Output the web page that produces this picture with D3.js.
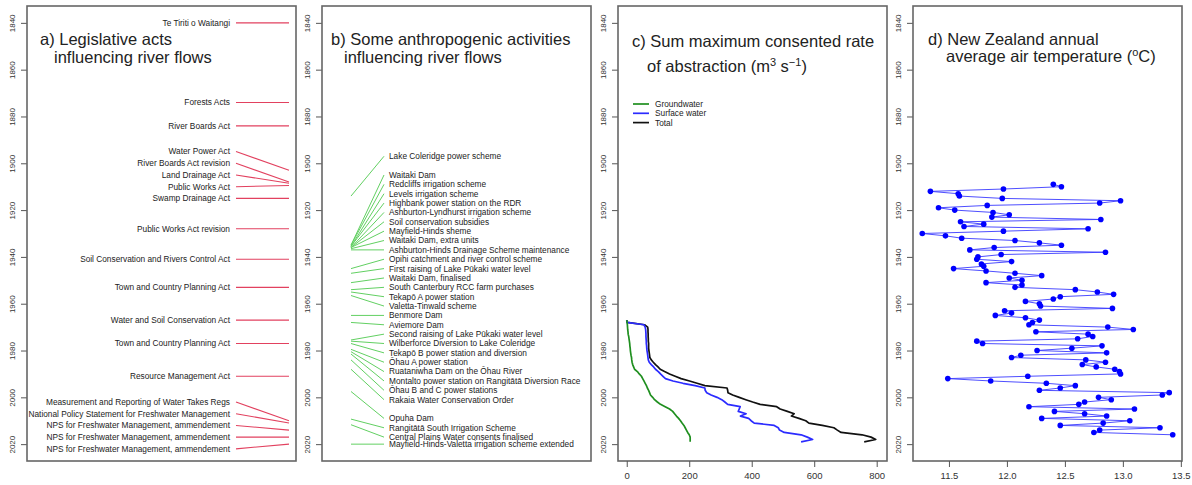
<!DOCTYPE html>
<html>
<head>
<meta charset="utf-8">
<script src="https://cdn.jsdelivr.net/npm/d3@7/dist/d3.min.js"></script>
<style>
  body { margin: 0; background: #fff; }
  svg text { font-family: "Liberation Sans", Arial, sans-serif; }
</style>
</head>
<body>
<div id="chart"></div>
<script>
// ---- data ----
// a) legislative acts: name, year of the act, year where the label sits
const actNames = [
  "Te Tiriti o Waitangi", "Forests Acts", "River Boards Act", "Water Power Act",
  "River Boards Act revision", "Land Drainage Act", "Public Works Act", "Swamp Drainage Act",
  "Public Works Act revision", "Soil Conservation and Rivers Control Act",
  "Town and Country Planning Act", "Water and Soil Conservation Act",
  "Town and Country Planning Act", "Resource Management Act",
  "Measurement and Reporting of Water Takes Regs",
  "National Policy Statement for Freshwater Management",
  "NPS for Freshwater Management, ammendement",
  "NPS for Freshwater Management, ammendement",
  "NPS for Freshwater Management, ammendement"
];
const actYears = [1840, 1874, 1884, 1903, 1908, 1908.5, 1909.5, 1915, 1928, 1941, 1953, 1967, 1977, 1991, 2010, 2011, 2014, 2017, 2020];
const actLabelYears = [1840, 1874, 1884, 1895, 1900, 1905, 1910, 1915, 1928, 1941, 1953, 1967, 1977, 1991, 2002, 2007, 2012, 2017, 2022];

// b) anthropogenic activities
const activityNames = [
  "Lake Coleridge power scheme", "Waitaki Dam", "Redcliffs irrigation scheme",
  "Levels irrigation scheme", "Highbank power station on the RDR",
  "Ashburton-Lyndhurst irrigation scheme", "Soil conservation subsidies",
  "Mayfield-Hinds sheme", "Waitaki Dam, extra units",
  "Ashburton-Hinds Drainage Scheme maintenance", "Opihi catchment and river control scheme",
  "First raising of Lake Pūkaki water level", "Waitaki Dam, finalised",
  "South Canterbury RCC farm purchases", "Tekapō A power station", "Valetta-Tinwald scheme",
  "Benmore Dam", "Aviemore Dam", "Second raising of Lake Pūkaki water level",
  "Wilberforce Diversion to Lake Coleridge", "Tekapō B power station and diversion",
  "Ōhau A power station", "Ruataniwha Dam on the Ōhau River",
  "Montalto power station on Rangitātā Diversion Race", "Ōhau B and C power stations",
  "Rakaia Water Conservation Order", "Opuha Dam", "Rangitātā South Irrigation Scheme",
  "Central Plains Water consents finalised", "Mayfield-Hinds-Valetta irrigation scheme extended"
];
const activityYears = [1914, 1935, 1935, 1935.5, 1935.5, 1936, 1936, 1936, 1936.5, 1937,
  1945, 1947, 1951, 1954, 1955, 1956.5, 1965, 1968, 1975.5, 1976, 1977, 1979.5, 1980.5,
  1981.5, 1984, 1988, 1997.5, 2009.3, 2011.7, 2020];
const activityLabelYears = [1897, 1905, 1909, 1913, 1917, 1921, 1925, 1929, 1933, 1937,
  1941, 1945, 1949, 1953, 1957, 1961, 1965, 1969, 1973, 1977, 1981, 1985, 1989, 1993,
  1997, 2001, 2009, 2013, 2017, 2020];

// c) sum of maximum consented abstraction, 1967-2019 (m3/s)
const abstractionStart = 1967;
const groundwater = [0, 1, 2, 2.5, 3, 4, 4.5, 6.3, 7.3, 8.4,
  9.5, 10, 11, 11.6, 12.6, 13.7, 15.3, 16, 17, 19,
  22, 25, 34, 40, 47, 51, 55, 59, 63, 66,
  70, 73, 76, 83, 89, 98, 108, 123, 137, 147,
  153, 159, 166, 172, 177, 183, 187, 191, 195, 200,
  203, 203, 203];
const surfaceWater = [0, 1, 55, 59, 60.5, 61, 61.5, 61.5, 62, 62.6,
  62.6, 63.6, 64, 64.7, 66, 67, 68, 69, 72, 78.5,
  86, 92, 101, 108, 116, 124, 148, 180, 219, 250,
  251, 256, 270, 289, 304, 314, 323, 363, 360, 357,
  382, 364, 390, 398, 408, 472, 485, 489, 504, 558,
  578, 595, 558];
const totalAbstraction = [0, 2, 57, 67, 68, 68, 68.5, 68.5, 69, 69,
  70, 70, 70, 71, 72, 73, 74, 78.5, 85, 92,
  100, 107, 121, 137, 155, 174, 201, 225, 250, 321,
  323, 324, 339, 360, 381, 403, 427, 480, 491, 514,
  536, 527, 551, 573, 583, 626, 663, 674, 686, 753,
  782, 797, 760];
const seriesNames = ["Groundwater", "Surface water", "Total"];
const seriesColors = ["#1f8f1f", "#2b2bff", "#111111"];

// d) NZ annual average air temperature, 1909-2016 (degC)
const tempStart = 1909;
const temperature = [12.40, 12.47, 11.97, 11.34, 11.58, 11.59, 11.96, 12.98, 12.80, 11.83,
  11.41, 11.55, 11.88, 12.02, 11.87, 12.81, 11.60, 11.80, 11.63, 12.70,
  11.97, 11.27, 11.47, 11.61, 12.07, 12.28, 12.47, 11.89, 11.68, 12.85,
  11.95, 11.75, 11.74, 12.04, 11.78, 11.80, 11.54, 11.82, 12.07, 12.30,
  12.02, 12.13, 11.82, 12.13, 12.07, 12.59, 12.78, 12.92, 12.46, 12.40,
  12.16, 12.28, 12.29, 12.91, 11.98, 12.04, 11.90, 12.16, 12.28, 12.22,
  12.19, 12.87, 13.09, 12.25, 12.70, 12.74, 12.61, 11.74, 11.79, 12.82,
  12.56, 12.26, 12.86, 12.12, 12.04, 12.68, 12.85, 12.65, 12.77, 12.93,
  12.97, 12.98, 12.18, 11.49, 11.86, 12.34, 12.59, 12.46, 12.28, 13.40,
  13.34, 12.79, 12.90, 12.67, 12.62, 12.19, 13.10, 12.41, 12.67, 12.86,
  12.30, 13.06, 12.83, 12.46, 13.32, 12.80, 12.75, 13.43];

const yearTicks = [1840, 1860, 1880, 1900, 1920, 1940, 1960, 1980, 2000, 2020];
const abstractionTicks = [0, 200, 400, 600, 800];
const tempTicks = [11.5, 12.0, 12.5, 13.0, 13.5];

function drawChart() {
    const width = 1192, height = 485;
    const top = 6, bottom = 461;
    const boxWidth = 269;
    const lefts = [27, 322, 618, 913];

    const svg = d3.select("#chart").append("svg")
        .attr("width", width)
        .attr("height", height);

    // shared year scale (years run downwards)
    const y = d3.scaleLinear()
        .domain([1832.8, 2027.2])
        .range([top, bottom]);

    // frames + year axes
    lefts.forEach(left => {
        const g = svg.append("g");
        const axis = g.append("g")
            .attr("transform", "translate(" + left + ",0)")
            .call(d3.axisLeft(y).tickValues(yearTicks).tickSize(6).tickPadding(4).tickFormat(d3.format("d")));
        axis.select(".domain").remove();
        axis.selectAll("line").attr("stroke", "#555");
        axis.selectAll("text")
            .attr("transform", "rotate(-90)")
            .attr("x", 0)
            .attr("y", -15)
            .attr("dy", "0.35em")
            .style("text-anchor", "middle")
            .style("font-size", "8px")
            .attr("fill", "#333");

        g.append("rect")
            .attr("x", left)
            .attr("y", top)
            .attr("width", boxWidth)
            .attr("height", bottom - top)
            .attr("fill", "none")
            .attr("stroke", "#666")
            .attr("stroke-width", 1.6);
    });

    function title(left, lines) {
        lines.forEach(l => {
            const t = svg.append("text")
                .attr("x", left + l.dx)
                .attr("y", l.y)
                .style("font-size", "16.5px")
                .attr("fill", "#222");
            l.parts.forEach(p => {
                const s = t.append("tspan").text(p.text);
                if (p.sup) s.attr("baseline-shift", "super").style("font-size", "11px");
            });
        });
    }

    // ---- a) legislative acts ----
    const la = lefts[0];
    const acts = actNames.map((n, i) => ({ name: n, year: actYears[i], labelYear: actLabelYears[i] }));
    svg.append("g").selectAll("line")
        .data(acts)
        .enter()
        .append("line")
        .attr("x1", la + 209)
        .attr("y1", d => y(d.labelYear))
        .attr("x2", la + 262)
        .attr("y2", d => y(d.year))
        .attr("stroke", "#e2415f")
        .attr("stroke-width", 1.1);
    svg.append("g").selectAll("text")
        .data(acts)
        .enter()
        .append("text")
        .attr("x", la + 203)
        .attr("y", d => y(d.labelYear))
        .attr("dy", "0.35em")
        .style("text-anchor", "end")
        .style("font-size", "8.3px")
        .attr("fill", "#222")
        .text(d => d.name);
    title(la, [
        { dx: 13, y: 45, parts: [{ text: "a) Legislative acts" }] },
        { dx: 27, y: 63, parts: [{ text: "influencing river flows" }] }
    ]);

    // ---- b) anthropogenic activities ----
    const lb = lefts[1];
    const acts2 = activityNames.map((n, i) => ({ name: n, year: activityYears[i], labelYear: activityLabelYears[i] }));
    svg.append("g").selectAll("line")
        .data(acts2)
        .enter()
        .append("line")
        .attr("x1", lb + 29)
        .attr("y1", d => y(d.year))
        .attr("x2", lb + 62)
        .attr("y2", d => y(d.labelYear))
        .attr("stroke", "#62d062")
        .attr("stroke-width", 1);
    svg.append("g").selectAll("text")
        .data(acts2)
        .enter()
        .append("text")
        .attr("x", lb + 67)
        .attr("y", d => y(d.labelYear))
        .attr("dy", "0.35em")
        .style("font-size", "8.3px")
        .attr("fill", "#222")
        .text(d => d.name);
    title(lb, [
        { dx: 9, y: 45, parts: [{ text: "b) Some anthropogenic activities" }] },
        { dx: 22, y: 63, parts: [{ text: "influencing river flows" }] }
    ]);

    // ---- c) consented abstraction ----
    const lc = lefts[2];
    const xC = d3.scaleLinear().domain([-28, 833]).range([lc, lc + boxWidth]);
    const axC = svg.append("g")
        .attr("transform", "translate(0," + bottom + ")")
        .call(d3.axisBottom(xC).tickValues(abstractionTicks).tickSize(6).tickPadding(5));
    axC.select(".domain").remove();
    axC.selectAll("line").attr("stroke", "#555");
    axC.selectAll("text").style("font-size", "9.5px").attr("fill", "#333");

    const seriesData = [groundwater, surfaceWater, totalAbstraction];
    const line = d3.line()
        .x(d => xC(d.v))
        .y(d => y(d.year));
    [2, 1, 0].forEach(k => {
        const pts = seriesData[k].map((v, i) => ({ year: abstractionStart + i, v: v }));
        svg.append("path")
            .datum(pts)
            .attr("d", line)
            .attr("fill", "none")
            .attr("stroke", seriesColors[k])
            .attr("stroke-width", 1.7)
            .attr("stroke-linejoin", "round");
    });

    // legend
    const legend = svg.append("g");
    seriesNames.forEach((n, i) => {
        legend.append("line")
            .attr("x1", lc + 15).attr("x2", lc + 31)
            .attr("y1", 104 + i * 9.3).attr("y2", 104 + i * 9.3)
            .attr("stroke", seriesColors[i])
            .attr("stroke-width", 1.7);
        legend.append("text")
            .attr("x", lc + 37)
            .attr("y", 104 + i * 9.3)
            .attr("dy", "0.35em")
            .style("font-size", "8.3px")
            .attr("fill", "#222")
            .text(n);
    });
    title(lc, [
        { dx: 14, y: 47, parts: [{ text: "c) Sum maximum consented rate" }] },
        { dx: 29, y: 72, parts: [{ text: "of abstraction (m" }, { text: "3", sup: true }, { text: " s" }, { text: "\u22121", sup: true }, { text: ")" }] }
    ]);

    // ---- d) temperature ----
    const ld = lefts[3];
    const xD = d3.scaleLinear().domain([11.19, 13.51]).range([ld, ld + boxWidth]);
    const axD = svg.append("g")
        .attr("transform", "translate(0," + bottom + ")")
        .call(d3.axisBottom(xD).tickValues(tempTicks).tickSize(6).tickPadding(5).tickFormat(d3.format(".1f")));
    axD.select(".domain").remove();
    axD.selectAll("line").attr("stroke", "#555");
    axD.selectAll("text").style("font-size", "9.5px").attr("fill", "#333");

    const temps = temperature.map((t, i) => ({ year: tempStart + i, t: t }));
    svg.append("path")
        .datum(temps)
        .attr("d", d3.line().x(d => xD(d.t)).y(d => y(d.year)))
        .attr("fill", "none")
        .attr("stroke", "#3a3aff")
        .attr("stroke-width", 0.9);
    svg.append("g").selectAll("circle")
        .data(temps)
        .enter()
        .append("circle")
        .attr("cx", d => xD(d.t))
        .attr("cy", d => y(d.year))
        .attr("r", 2.8)
        .attr("fill", "#0000ff");
    title(ld, [
        { dx: 15, y: 45, parts: [{ text: "d) New Zealand annual" }] },
        { dx: 33, y: 62, parts: [{ text: "average air temperature (" }, { text: "o", sup: true }, { text: "C)" }] }
    ]);
}

drawChart();
</script>
</body>
</html>
